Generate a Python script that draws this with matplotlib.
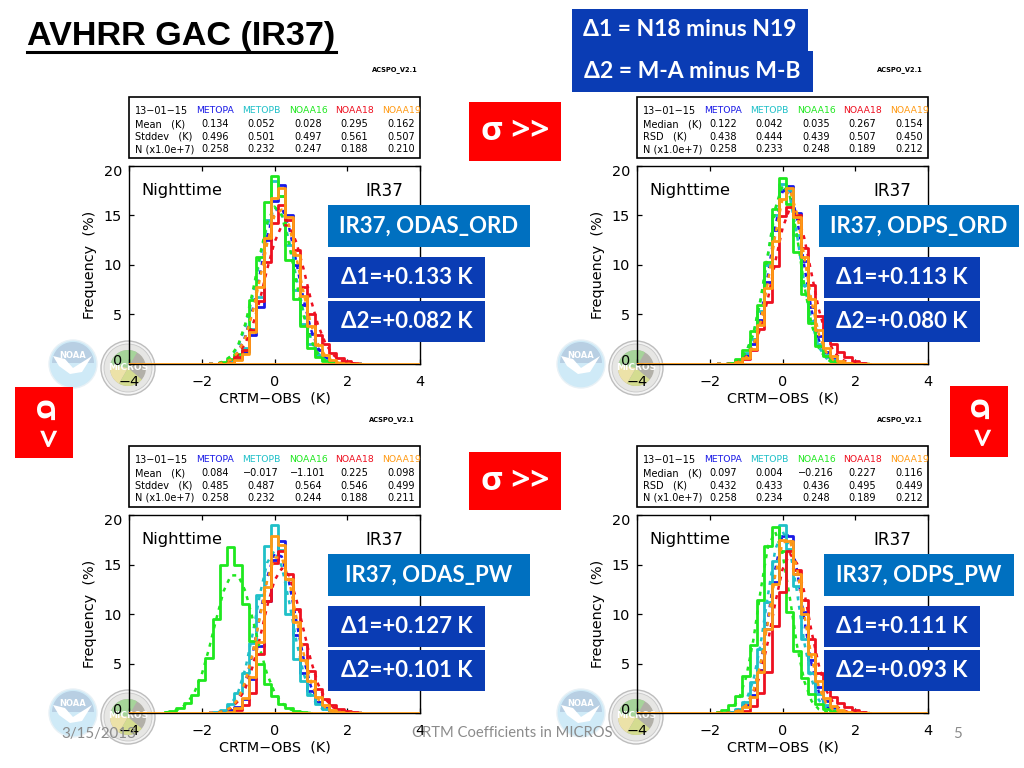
import matplotlib
matplotlib.use('Agg')
import matplotlib.pyplot as plt
from matplotlib.patches import Circle, Wedge, Polygon, Rectangle
from matplotlib.transforms import ScaledTranslation

# bin centres, K
centers = [-1.8, -1.6, -1.4, -1.2, -1.0, -0.8, -0.6, -0.4, -0.2, 0.0, 0.2, 0.4, 0.6, 0.8, 1.0, 1.2, 1.4, 1.6, 1.8, 2.0, 2.2, 2.4]
centers_shifted = [-3.0, -2.8, -2.6, -2.4, -2.2, -2.0, -1.8, -1.6, -1.4, -1.2, -1.0, -0.8, -0.6, -0.4, -0.2, 0.0, 0.2, 0.4, 0.6, 0.8, 1.0]

sensors = ['METOPA', 'METOPB', 'NOAA16', 'NOAA18', 'NOAA19']
colors = ['#1a1ae6', '#1fc0c8', '#1fe81f', '#ee1020', '#ff9a14']

# ODAS_ORD
aord_a = [0, 0, 0.1, 0.2, 0.5, 1.2, 2.9, 5.8, 12.5, 16.5, 18.1, 15, 10, 6, 3, 1.4, 0.6, 0.2, 0.1, 0, 0, 0]
aord_b = [0, 0, 0, 0.3, 0.7, 1.6, 3.5, 6.8, 14.5, 18.5, 17, 12, 7.5, 4, 2, 0.9, 0.4, 0.1, 0, 0, 0, 0]
aord_c = [0, 0, 0.2, 0.5, 1.0, 1.4, 6.5, 10.8, 16.4, 19, 17, 10.5, 6.6, 3.8, 1.6, 0.7, 0.3, 0.1, 0, 0, 0, 0]
aord_d = [0, 0, 0, 0.1, 0.7, 1.4, 3.4, 6.4, 10.3, 14.2, 16.1, 14.5, 11.5, 7.8, 5, 2.9, 2, 1.1, 0.6, 0.3, 0.15, 0.05]
aord_e = [0, 0, 0, 0.1, 0.4, 1, 3.2, 7.8, 12.7, 16.8, 17.8, 14.8, 11, 6.9, 3.8, 1.9, 0.9, 0.4, 0.15, 0.05, 0, 0]
aord_a_fit = [0, 0, 0.15, 0.47, 1.2, 2.8, 5.5, 9.1, 12.9, 15.5, 15.8, 13.8, 10.3, 6.5, 3.5, 1.6, 0.63, 0.2, 0.05, 0, 0, 0]
aord_b_fit = [0, 0, 0.24, 0.7, 1.76, 3.8, 6.9, 10.6, 14, 15.8, 15.2, 12.5, 8.7, 5.2, 2.6, 1.1, 0.4, 0.13, 0.04, 0, 0, 0]
aord_c_fit = [0, 0, 0.27, 0.8, 1.9, 4.1, 7.3, 11, 14.3, 15.9, 15, 12.1, 8.3, 4.9, 2.4, 1, 0.35, 0.1, 0, 0, 0, 0]
aord_d_fit = [0, 0, 0.14, 0.39, 0.96, 2.1, 3.9, 6.5, 9.6, 12.3, 14, 14, 12.3, 9.6, 6.5, 3.9, 2.1, 0.96, 0.39, 0.14, 0.05, 0]
aord_e_fit = [0, 0, 0.15, 0.44, 1.2, 2.7, 5.2, 8.6, 12.2, 15, 15.6, 14, 10.8, 7.2, 4, 2, 0.8, 0.3, 0.1, 0.03, 0, 0]

# ODPS_ORD
pord_a = [0, 0, 0.1, 0.3, 0.9, 2, 4.4, 8.3, 13.5, 17.6, 18, 15.3, 10.4, 5.8, 2.8, 1.2, 0.5, 0.2, 0.05, 0, 0, 0]
pord_b = [0, 0, 0.1, 0.4, 1.1, 2.5, 5.4, 10, 15, 18.2, 17.6, 13, 8, 4.3, 2, 0.9, 0.4, 0.15, 0.05, 0, 0, 0]
pord_c = [0, 0, 0.15, 0.5, 1.4, 3.3, 6, 10.3, 15.7, 18.8, 16.2, 11.3, 7.1, 4.1, 1.8, 0.8, 0.35, 0.15, 0.05, 0, 0, 0]
pord_d = [0, 0, 0, 0.15, 0.5, 1.4, 3.5, 6.3, 9.9, 14.9, 15.9, 15, 11.7, 8, 4.8, 3, 2, 1.2, 0.7, 0.35, 0.15, 0.05]
pord_e = [0, 0, 0, 0.2, 0.6, 1.5, 3.9, 7.7, 12.4, 16.7, 17.8, 14.8, 10.8, 6.6, 3.4, 1.6, 0.8, 0.35, 0.15, 0.05, 0, 0]
pord_a_fit = [0, 0, 0, 0.2, 0.7, 2, 4.7, 9, 13.8, 17.4, 17.7, 14.7, 9.9, 5.4, 2.4, 0.9, 0.26, 0.07, 0, 0, 0, 0]
pord_b_fit = [0, 0, 0, 0.37, 1.2, 3, 6.4, 11, 15.5, 17.9, 16.9, 13, 8.1, 4.2, 1.7, 0.6, 0.17, 0.04, 0, 0, 0, 0]
pord_c_fit = [0, 0, 0, 0.36, 1.2, 3.1, 6.6, 11.1, 15.7, 18.1, 17, 12.9, 7.9, 4, 1.6, 0.5, 0.13, 0.03, 0, 0, 0, 0]
pord_d_fit = [0, 0, 0, 0.24, 0.7, 1.7, 3.7, 6.6, 10.3, 13.7, 15.7, 15.3, 12.7, 9.1, 5.5, 2.9, 1.3, 0.5, 0.17, 0.05, 0, 0]
pord_e_fit = [0, 0, 0, 0.2, 0.67, 1.9, 4.3, 8.3, 13, 16.7, 17.6, 15.2, 10.8, 6.3, 3, 1.2, 0.4, 0.1, 0.03, 0, 0, 0]

# ODAS_PW, the NOAA16 lists run on centers_shifted
apw_a = [0, 0, 0.1, 0.3, 0.6, 1.4, 3.4, 6.8, 11.3, 15.5, 17.4, 13.5, 7.9, 4, 2.2, 1.1, 0.5, 0.2, 0.07, 0, 0, 0]
apw_b = [0, 0.1, 0.3, 0.9, 2, 4, 7.1, 11.9, 16.9, 19, 16.5, 10, 5.5, 3.2, 1.8, 0.9, 0.4, 0.15, 0.05, 0, 0, 0]
apw_c = [0.1, 0.25, 0.5, 1, 1.8, 3.3, 5.6, 9.5, 14.9, 16.8, 14.9, 11, 7.3, 4.9, 2.9, 1.7, 0.9, 0.5, 0.25, 0.12, 0.05]
apw_d = [0, 0, 0, 0, 0.3, 0.8, 2, 6, 11.3, 15.2, 16.4, 14, 10.5, 7, 4.2, 2.4, 1.4, 0.8, 0.45, 0.2, 0.1, 0.05]
apw_e = [0, 0, 0, 0.1, 0.5, 1.5, 3.6, 7.2, 12.7, 17.9, 17, 13.5, 9.2, 5.4, 3.2, 1.6, 0.8, 0.35, 0.15, 0.05, 0, 0]
apw_a_fit = [0, 0, 0.15, 0.48, 1.3, 3.1, 6, 9.9, 13.7, 16.1, 15.8, 13.2, 9.3, 5.5, 2.7, 1.2, 0.4, 0.12, 0.03, 0, 0, 0]
apw_b_fit = [0, 0, 0.3, 0.85, 2.1, 4.5, 8, 12, 15.2, 16.4, 14.8, 11.3, 7.3, 4, 1.8, 0.7, 0.23, 0.06, 0, 0, 0, 0]
apw_c_fit = [0.05, 0.15, 0.41, 1, 2.1, 3.9, 6.5, 9.5, 12.3, 13.9, 13.9, 12.3, 9.5, 6.5, 3.9, 2.1, 1, 0.41, 0.15, 0.05, 0]
apw_d_fit = [0, 0, 0.16, 0.48, 1.2, 2.5, 4.7, 7.6, 10.8, 13.4, 14.6, 13.9, 11.5, 8.4, 5.3, 2.9, 1.4, 0.6, 0.23, 0.08, 0.02, 0]
apw_e_fit = [0, 0, 0.18, 0.54, 1.4, 3.2, 6, 9.7, 13.4, 15.7, 15.7, 13.4, 9.7, 6, 3.2, 1.4, 0.54, 0.18, 0.05, 0, 0, 0]

# ODPS_PW
ppw_a = [0, 0, 0.1, 0.3, 0.8, 1.8, 4.3, 8.5, 13.2, 17.9, 17.9, 14, 10.2, 5.4, 2.6, 1.2, 0.5, 0.2, 0.05, 0, 0, 0]
ppw_b = [0, 0, 0.1, 0.4, 1.1, 3.1, 6.5, 11.2, 15.4, 19, 16.6, 12.8, 7.5, 4, 1.9, 0.8, 0.35, 0.13, 0.04, 0, 0, 0]
ppw_c = [0.1, 0.3, 0.8, 1.7, 3.7, 6.9, 11.4, 16.9, 18.8, 16.4, 10.2, 6.3, 3.5, 1.9, 0.9, 0.4, 0.2, 0.08, 0, 0, 0, 0]
ppw_d = [0, 0, 0, 0, 0.2, 0.7, 2, 4.1, 8.8, 12.2, 16.4, 14.4, 11.4, 7.5, 4, 2.6, 1.6, 1, 0.6, 0.3, 0.15, 0.05]
ppw_e = [0, 0, 0, 0.2, 0.6, 1.6, 4.1, 8.5, 13, 17.5, 17.4, 14, 10, 6, 3.2, 1.5, 0.7, 0.3, 0.1, 0.04, 0, 0]
ppw_a_fit = [0, 0, 0, 0.2, 0.73, 2.1, 5, 9.5, 14.5, 18, 17.9, 14.4, 9.4, 4.9, 2.1, 0.7, 0.2, 0.05, 0, 0, 0, 0]
ppw_b_fit = [0, 0, 0.1, 0.39, 1.25, 3.3, 7, 11.9, 16.5, 18.4, 16.6, 12.2, 7.1, 3.4, 1.3, 0.4, 0.1, 0, 0, 0, 0, 0]
ppw_c_fit = [0.03, 0.12, 0.45, 1.4, 3.6, 7.4, 12.4, 16.8, 18.3, 16.1, 11.7, 6.8, 3.2, 1.2, 0.37, 0.09, 0.02, 0, 0, 0, 0, 0]
ppw_d_fit = [0, 0, 0, 0.26, 0.74, 1.9, 4, 7.2, 11.1, 14.5, 16.1, 15.1, 12.2, 8.2, 4.8, 2.3, 1, 0.35, 0.1, 0.03, 0, 0]
ppw_e_fit = [0, 0, 0, 0.24, 0.8, 2.2, 5, 9.2, 13.9, 17.2, 17.5, 14.6, 9.9, 5.6, 2.6, 1, 0.3, 0.08, 0.02, 0, 0, 0]

# numbers of the stat boxes
rows_mean = ['Mean   (K)', 'Stddev   (K)', 'N (x1.0e+7)']
rows_median = ['Median   (K)', 'RSD   (K)', 'N (x1.0e+7)']
stats_aord = [['0.134', '0.052', '0.028', '0.295', '0.162'], ['0.496', '0.501', '0.497', '0.561', '0.507'], ['0.258', '0.232', '0.247', '0.188', '0.210']]
stats_pord = [['0.122', '0.042', '0.035', '0.267', '0.154'], ['0.438', '0.444', '0.439', '0.507', '0.450'], ['0.258', '0.233', '0.248', '0.189', '0.212']]
stats_apw = [['0.084', '\u22120.017', '\u22121.101', '0.225', '0.098'], ['0.485', '0.487', '0.564', '0.546', '0.499'], ['0.258', '0.232', '0.244', '0.188', '0.211']]
stats_ppw = [['0.097', '0.004', '\u22120.216', '0.227', '0.116'], ['0.432', '0.433', '0.436', '0.495', '0.449'], ['0.258', '0.234', '0.248', '0.189', '0.212']]

W, H = 1024, 768
BLUE = '#0a3cb4'
LIGHT = '#0070c0'
RED = '#ff0000'
sans = ['Lato', 'DejaVu Sans']
wide = ['Open Sans', 'DejaVu Sans']

panels = [
    dict(x=129, y=166, hist=[aord_a, aord_b, aord_c, aord_d, aord_e], fit=[aord_a_fit, aord_b_fit, aord_c_fit, aord_d_fit, aord_e_fit], rows=rows_mean, stats=stats_aord,
         name='IR37, ODAS_ORD', d1='\u03941=+0.133 K', d2='\u03942=+0.082 K', name_box=(328, 530), d_box=(328, 485), stamp=(372, 70)),
    dict(x=637, y=166, hist=[pord_a, pord_b, pord_c, pord_d, pord_e], fit=[pord_a_fit, pord_b_fit, pord_c_fit, pord_d_fit, pord_e_fit], rows=rows_median, stats=stats_pord,
         name='IR37, ODPS_ORD', d1='\u03941=+0.113 K', d2='\u03942=+0.080 K', name_box=(819, 1019), d_box=(824, 980), stamp=(877, 70)),
    dict(x=129, y=515, hist=[apw_a, apw_b, apw_c, apw_d, apw_e], fit=[apw_a_fit, apw_b_fit, apw_c_fit, apw_d_fit, apw_e_fit], rows=rows_mean, stats=stats_apw,
         name='IR37, ODAS_PW', d1='\u03941=+0.127 K', d2='\u03942=+0.101 K', name_box=(328, 530), d_box=(328, 485), stamp=(369, 420)),
    dict(x=637, y=515, hist=[ppw_a, ppw_b, ppw_c, ppw_d, ppw_e], fit=[ppw_a_fit, ppw_b_fit, ppw_c_fit, ppw_d_fit, ppw_e_fit], rows=rows_median, stats=stats_ppw,
         name='IR37, ODPS_PW', d1='\u03941=+0.111 K', d2='\u03942=+0.093 K', name_box=(824, 1014), d_box=(824, 980), stamp=(877, 420)),
]

fig = plt.figure(figsize=(W / 100, H / 100), dpi=100, facecolor='white')


def pixel_axes(z):
    a = fig.add_axes([0, 0, 1, 1], zorder=z)
    a.set_xlim(0, W)
    a.set_ylim(H, 0)
    a.axis('off')
    a.patch.set_alpha(0)
    return a


under = pixel_axes(0)
over = pixel_axes(5)


def box(x0, y0, x1, y1, color, label=None, size=16, rotation=0, family=sans):
    over.add_patch(Rectangle((x0, y0), x1 - x0, y1 - y0, fc=color, ec='none'))
    if label:
        over.text((x0 + x1) / 2, (y0 + y1) / 2, label, color='white', fontsize=size, fontweight='bold',
                  family=family, ha='center', va='center', rotation=rotation)


def logos(x, y):
    # NOAA disc
    cx = x - 56
    under.add_patch(Circle((cx, y), 24, fc='#cfeaf7', ec='#e8f1f6', lw=1))
    under.add_patch(Wedge((cx, y - 1), 21, 180, 360, fc='#b8cfe3', ec='none'))
    under.add_patch(Polygon([(cx - 20, y - 8), (cx - 8, y - 5), (cx, y + 4), (cx + 19, y - 8), (cx + 9, y + 8), (cx - 3, y + 10), (cx - 14, y + 2)],
                            fc='white', ec='none'))
    under.text(cx, y - 9, 'NOAA', color='white', fontsize=6, fontweight='bold', ha='center', va='center')
    # MICROS seal
    mx = x - 1
    my = y + 4
    under.add_patch(Circle((mx, my), 27, fc='#f4f4f4', ec='#bdbdbd', lw=1))
    under.add_patch(Circle((mx, my), 24, fc='#e6e6e4', ec='#c8c8c8', lw=0.6))
    under.add_patch(Circle((mx, my), 18, fc='#b2b0a8', ec='none'))
    under.add_patch(Wedge((mx, my), 18, 190, 300, fc='#a6d49a', ec='none'))
    under.add_patch(Wedge((mx, my), 18, 120, 190, fc='#ece2a8', ec='none'))
    under.add_patch(Wedge((mx, my), 18, 40, 120, fc='#d4dc90', ec='none'))
    under.text(mx, my - 1, 'MICROS', color='white', fontsize=6.5, fontweight='bold', ha='center', va='center')


for p in panels:
    x, y = p['x'], p['y']
    logos(x, y + 198)

    ax = fig.add_axes([x / W, 1 - (y + 198) / H, 291 / W, 198 / H], zorder=1)
    ax.patch.set_alpha(0)
    for i in range(5):
        xs = centers
        if len(p['hist'][i]) == len(centers_shifted):
            xs = centers_shifted
        ax.step(xs, p['hist'][i], where='mid', color=colors[i], lw=2.0, zorder=2 + i)
        ax.plot(xs, p['fit'][i], color=colors[i], lw=1.8, ls=(0, (1.6, 2.2)), zorder=2 + i)
    ax.axhline(0, color=colors[4], lw=2.0, zorder=9)
    ax.set_xlim(-4, 4)
    ax.set_ylim(0, 20)
    ax.set_xticks([-4, -2, 0, 2, 4])
    ax.set_yticks([0, 5, 10, 15, 20])
    ax.tick_params(direction='in', top=True, right=True, length=3.5, width=0.9, labelsize=10.4, pad=5)
    ax.tick_params(axis='x', pad=8)
    ax.set_xlabel('CRTM\u2212OBS  (K)', fontsize=10.4, labelpad=2)
    ax.set_ylabel('Frequency  (%)', fontsize=10.4, labelpad=4.5)
    ax.text(-3.66, 17.5, 'Nighttime', fontsize=11.8, va='center')
    ax.text(2.5, 17.5, 'IR37', fontsize=12.2, va='center')
    for s in ax.spines.values():
        s.set_linewidth(1.0)
    # end labels of the y axis sit a little inside the frame
    ylabels = ax.get_yticklabels()
    ylabels[0].set_transform(ylabels[0].get_transform() + ScaledTranslation(0, 3 / 72, fig.dpi_scale_trans))
    ylabels[-1].set_transform(ylabels[-1].get_transform() + ScaledTranslation(0, -3 / 72, fig.dpi_scale_trans))

    # stat box above the plot
    top = y - 69
    under.add_patch(Rectangle((x, top), 291, 61, fc='white', ec='black', lw=1.2))
    under.text(x + 6, top + 13.7, '13\u221201\u221215', fontsize=7, va='center')
    heads = [67, 113, 160, 206, 253]
    cols = [86, 132, 179, 225, 272]
    row_y = [27.3, 39.7, 52]
    for i in range(5):
        under.text(x + heads[i], top + 13.7, sensors[i], color=colors[i], fontsize=6.7, va='center')
    for r in range(3):
        under.text(x + 6, top + row_y[r], p['rows'][r], fontsize=7, va='center')
        for i in range(5):
            under.text(x + cols[i], top + row_y[r], p['stats'][r][i], fontsize=7, ha='center', va='center')
    under.text(p['stamp'][0], p['stamp'][1], 'ACSPO_V2.1', fontsize=4.8, fontweight='bold', va='center')

    # labels over the plot
    box(p['name_box'][0], y + 39, p['name_box'][1], y + 81, LIGHT, p['name'], 16)
    box(p['d_box'][0], y + 91, p['d_box'][1], y + 132, BLUE, p['d1'], 16)
    box(p['d_box'][0], y + 135, p['d_box'][1], y + 176, BLUE, p['d2'], 16)

over.text(27, 36, 'AVHRR GAC (IR37)', fontsize=24.6, fontweight='bold', family='Liberation Sans', va='center')
over.plot([27, 336], [52, 52], color='black', lw=2.2)

box(572, 9, 808, 51, BLUE, '\u03941 = N18 minus N19', 16.5)
box(572, 51, 813, 92, BLUE, '\u03942 = M-A minus M-B', 16.5)
box(469, 102, 561, 161, RED, '\u03c3 >>', 24, family=wide)
box(469, 452, 561, 510, RED, '\u03c3 >>', 24, family=wide)
box(15, 387, 73, 458, RED, '\u03c3 >', 24, rotation=-90, family=wide)
box(950, 386, 1008, 457, RED, '\u03c3 >', 24, rotation=-90, family=wide)

over.text(61, 734, '3/15/2013', color='#8b8b8b', fontsize=10.8, family=sans, va='center')
over.text(512, 733, 'CRTM Coefficients in MICROS', color='#8b8b8b', fontsize=10.6, family=sans, ha='center', va='center')
over.text(958, 734, '5', color='#8b8b8b', fontsize=10.8, family=sans, ha='center', va='center')

fig.savefig('out.png', dpi=100)
